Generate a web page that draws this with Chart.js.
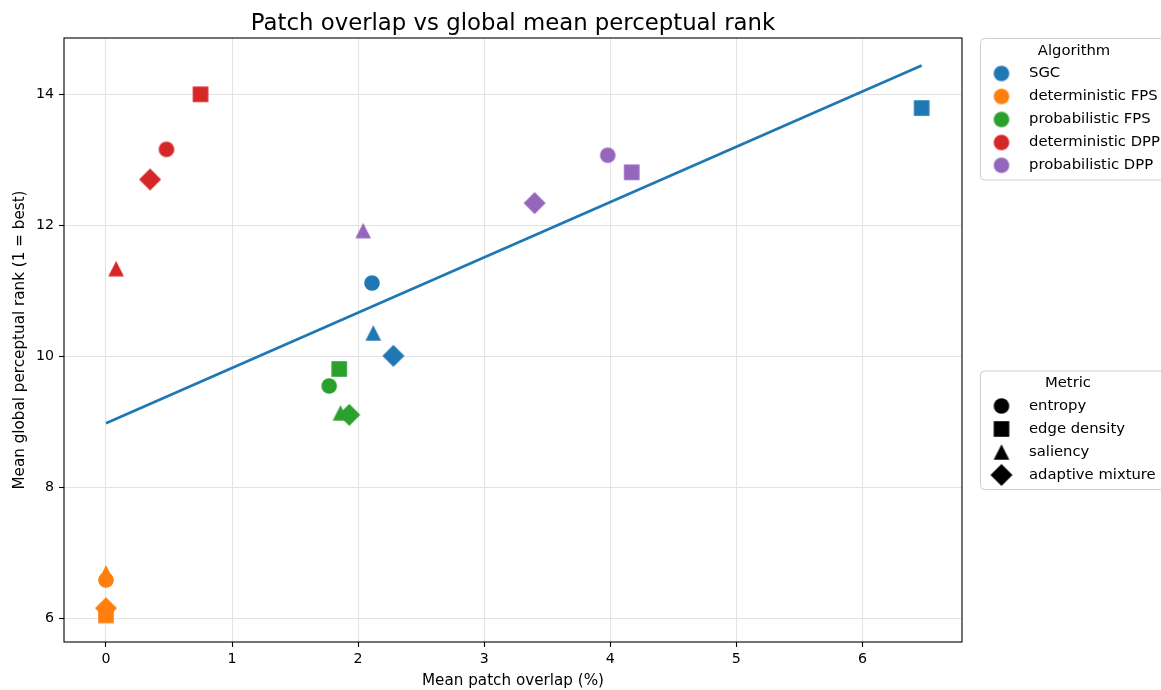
<!DOCTYPE html>
<html>
<head>
<meta charset="utf-8">
<script src="https://cdn.jsdelivr.net/npm/chart.js@4/dist/chart.umd.min.js"></script>
<style>
  html, body { margin: 0; padding: 0; background: #fff; overflow: hidden; }
  #wrap { width: 1161px; height: 690px; }
</style>
</head>
<body>
<div id="wrap"><canvas id="c" width="1161" height="690"></canvas></div>
<script>
// Algorithms (colour) and metrics (marker shape)
const algorithms = ['SGC', 'deterministic FPS', 'probabilistic FPS', 'deterministic DPP', 'probabilistic DPP'];
const algorithmColors = ['#1f77b4', '#ff7f0e', '#2ca02c', '#d62728', '#9467bd'];
const metrics = ['entropy', 'edge density', 'saliency', 'adaptive mixture'];
const metricShapes = ['circle', 'square', 'triangle', 'diamond'];

// Mean patch overlap (%) per metric, in the order of `metrics`
const overlapSGC = [2.11, 6.47, 2.12, 2.28];
const overlapDetFPS = [0.0, 0.0, 0.0, 0.0];
const overlapProbFPS = [1.77, 1.85, 1.86, 1.93];
const overlapDetDPP = [0.48, 0.75, 0.08, 0.35];
const overlapProbDPP = [3.98, 4.17, 2.04, 3.40];

// Mean global perceptual rank per metric (1 = best)
const rankSGC = [11.12, 13.79, 10.36, 10.01];
const rankDetFPS = [6.59, 6.05, 6.70, 6.16];
const rankProbFPS = [9.55, 9.81, 9.14, 9.11];
const rankDetDPP = [13.16, 14.00, 11.34, 12.70];
const rankProbDPP = [13.07, 12.81, 11.92, 12.34];

// Linear trend line end points
const trendOverlap = [0.0, 6.47];
const trendRank = [8.98, 14.44];

// Axis ranges and ticks
const xRange = [-0.333, 6.79];
const yRange = [5.645, 14.858];
const xTicks = [0, 1, 2, 3, 4, 5, 6];
const yTicks = [6, 8, 10, 12, 14];

const overlapByAlgorithm = [overlapSGC, overlapDetFPS, overlapProbFPS, overlapDetDPP, overlapProbDPP];
const rankByAlgorithm = [rankSGC, rankDetFPS, rankProbFPS, rankDetDPP, rankProbDPP];

const FONT = '"DejaVu Sans", "Liberation Sans", sans-serif';
const MARKER = 15.6;

function traceShape(g, shape, cx, cy, s) {
  const h = s / 2;
  g.beginPath();
  if (shape === 'circle') {
    g.arc(cx, cy, h, 0, Math.PI * 2);
  } else if (shape === 'square') {
    g.rect(cx - h, cy - h, s, s);
  } else if (shape === 'triangle') {
    g.moveTo(cx, cy - h);
    g.lineTo(cx + h, cy + h);
    g.lineTo(cx - h, cy + h);
    g.closePath();
  } else {
    const d = s * Math.SQRT2 / 2;
    g.moveTo(cx, cy - d);
    g.lineTo(cx + d, cy);
    g.lineTo(cx, cy + d);
    g.lineTo(cx - d, cy);
    g.closePath();
  }
}

function makeMarker(shape, color) {
  const c = document.createElement('canvas');
  c.width = 26; c.height = 26;
  const g = c.getContext('2d');
  traceShape(g, shape, 13, 13, MARKER);
  g.fillStyle = color;
  g.fill();
  return c;
}

const datasets = algorithms.map((name, a) => ({
  type: 'scatter',
  label: name,
  data: overlapByAlgorithm[a].map((x, i) => ({ x: x, y: rankByAlgorithm[a][i] })),
  pointStyle: metricShapes.map(s => makeMarker(s, algorithmColors[a])),
  pointRadius: 10,
  order: 10 - a
}));

datasets.push({
  type: 'line',
  label: 'trend',
  data: trendOverlap.map((x, i) => ({ x: x, y: trendRank[i] })),
  borderColor: '#1f77b4',
  borderWidth: 2.7,
  pointRadius: 0,
  fill: false,
  tension: 0,
  order: 0
});

const algorithmLegendMarkers = algorithmColors.map(c => makeMarker('circle', c));
const metricLegendMarkers = metricShapes.map(s => makeMarker(s, '#000'));

function roundRect(g, x, y, w, h, r) {
  g.beginPath();
  g.moveTo(x + r, y);
  g.lineTo(x + w - r, y);
  g.arcTo(x + w, y, x + w, y + r, r);
  g.lineTo(x + w, y + h - r);
  g.arcTo(x + w, y + h, x + w - r, y + h, r);
  g.lineTo(x + r, y + h);
  g.arcTo(x, y + h, x, y + h - r, r);
  g.lineTo(x, y + r);
  g.arcTo(x, y, x + r, y, r);
  g.closePath();
}

function drawLegend(g, box, title, titleX, titleY, labels, markers, rowY) {
  roundRect(g, box.x, box.y, box.w, box.h, 4);
  g.fillStyle = '#fff';
  g.fill();
  g.strokeStyle = '#cfcfcf';
  g.lineWidth = 1;
  g.stroke();
  g.fillStyle = '#000';
  g.font = '14.8px ' + FONT;
  g.textBaseline = 'middle';
  g.textAlign = 'center';
  g.fillText(title, titleX, titleY);
  g.textAlign = 'left';
  labels.forEach((lab, i) => {
    const m = markers[i];
    g.drawImage(m, 1001.5 - m.width / 2, rowY[i] - m.height / 2);
    g.fillText(lab, 1029, rowY[i]);
  });
}

const decorations = {
  id: 'decorations',
  afterDraw(chart) {
    const g = chart.ctx;
    const a = chart.chartArea;
    g.save();
    // frame around the plotting area
    g.strokeStyle = '#000';
    g.lineWidth = 1.1;
    g.strokeRect(a.left, a.top, a.right - a.left, a.bottom - a.top);
    // title
    g.fillStyle = '#000';
    g.font = '22.8px ' + FONT;
    g.textAlign = 'center';
    g.textBaseline = 'alphabetic';
    g.fillText('Patch overlap vs global mean perceptual rank', (a.left + a.right) / 2, 30);
    // legends
    drawLegend(g, { x: 980.5, y: 38.5, w: 200, h: 141.5 }, 'Algorithm', 1074, 51,
      algorithms, algorithmLegendMarkers, [73.5, 96.5, 119.5, 142.5, 165.3]);
    drawLegend(g, { x: 980.5, y: 371, w: 200, h: 118.5 }, 'Metric', 1068, 383.5,
      metrics, metricLegendMarkers, [406, 429, 452, 475]);
    g.restore();
  }
};

const gridCommon = { color: '#e3e3e3', lineWidth: 1, tickColor: '#000', tickLength: 5, tickWidth: 1.1, drawTicks: true };

new Chart(document.getElementById('c'), {
  type: 'scatter',
  data: { datasets: datasets },
  options: {
    responsive: false,
    animation: false,
    events: [],
    layout: { padding: { left: 0, top: 38, right: 199, bottom: 0 } },
    plugins: {
      legend: { display: false },
      title: { display: false },
      tooltip: { enabled: false }
    },
    scales: {
      x: {
        type: 'linear',
        min: xRange[0],
        max: xRange[1],
        afterFit: s => { s.height = 48; },
        afterBuildTicks: s => { s.ticks = xTicks.map(v => ({ value: v })); },
        grid: gridCommon,
        border: { display: false },
        ticks: { color: '#000', font: { family: FONT, size: 14.2 }, padding: 4, maxRotation: 0 },
        title: { display: true, text: 'Mean patch overlap (%)', color: '#000', font: { family: FONT, size: 15.2 }, padding: { top: 0, bottom: 0 } }
      },
      y: {
        type: 'linear',
        min: yRange[0],
        max: yRange[1],
        afterFit: s => { s.width = 64; },
        afterBuildTicks: s => { s.ticks = yTicks.map(v => ({ value: v })); },
        grid: gridCommon,
        border: { display: false },
        ticks: { color: '#000', font: { family: FONT, size: 14.2 }, padding: 5 },
        title: { display: true, text: 'Mean global perceptual rank (1 = best)', color: '#000', font: { family: FONT, size: 15.2 }, padding: { top: 11, bottom: 0 } }
      }
    }
  },
  plugins: [decorations]
});
</script>
</body>
</html>
